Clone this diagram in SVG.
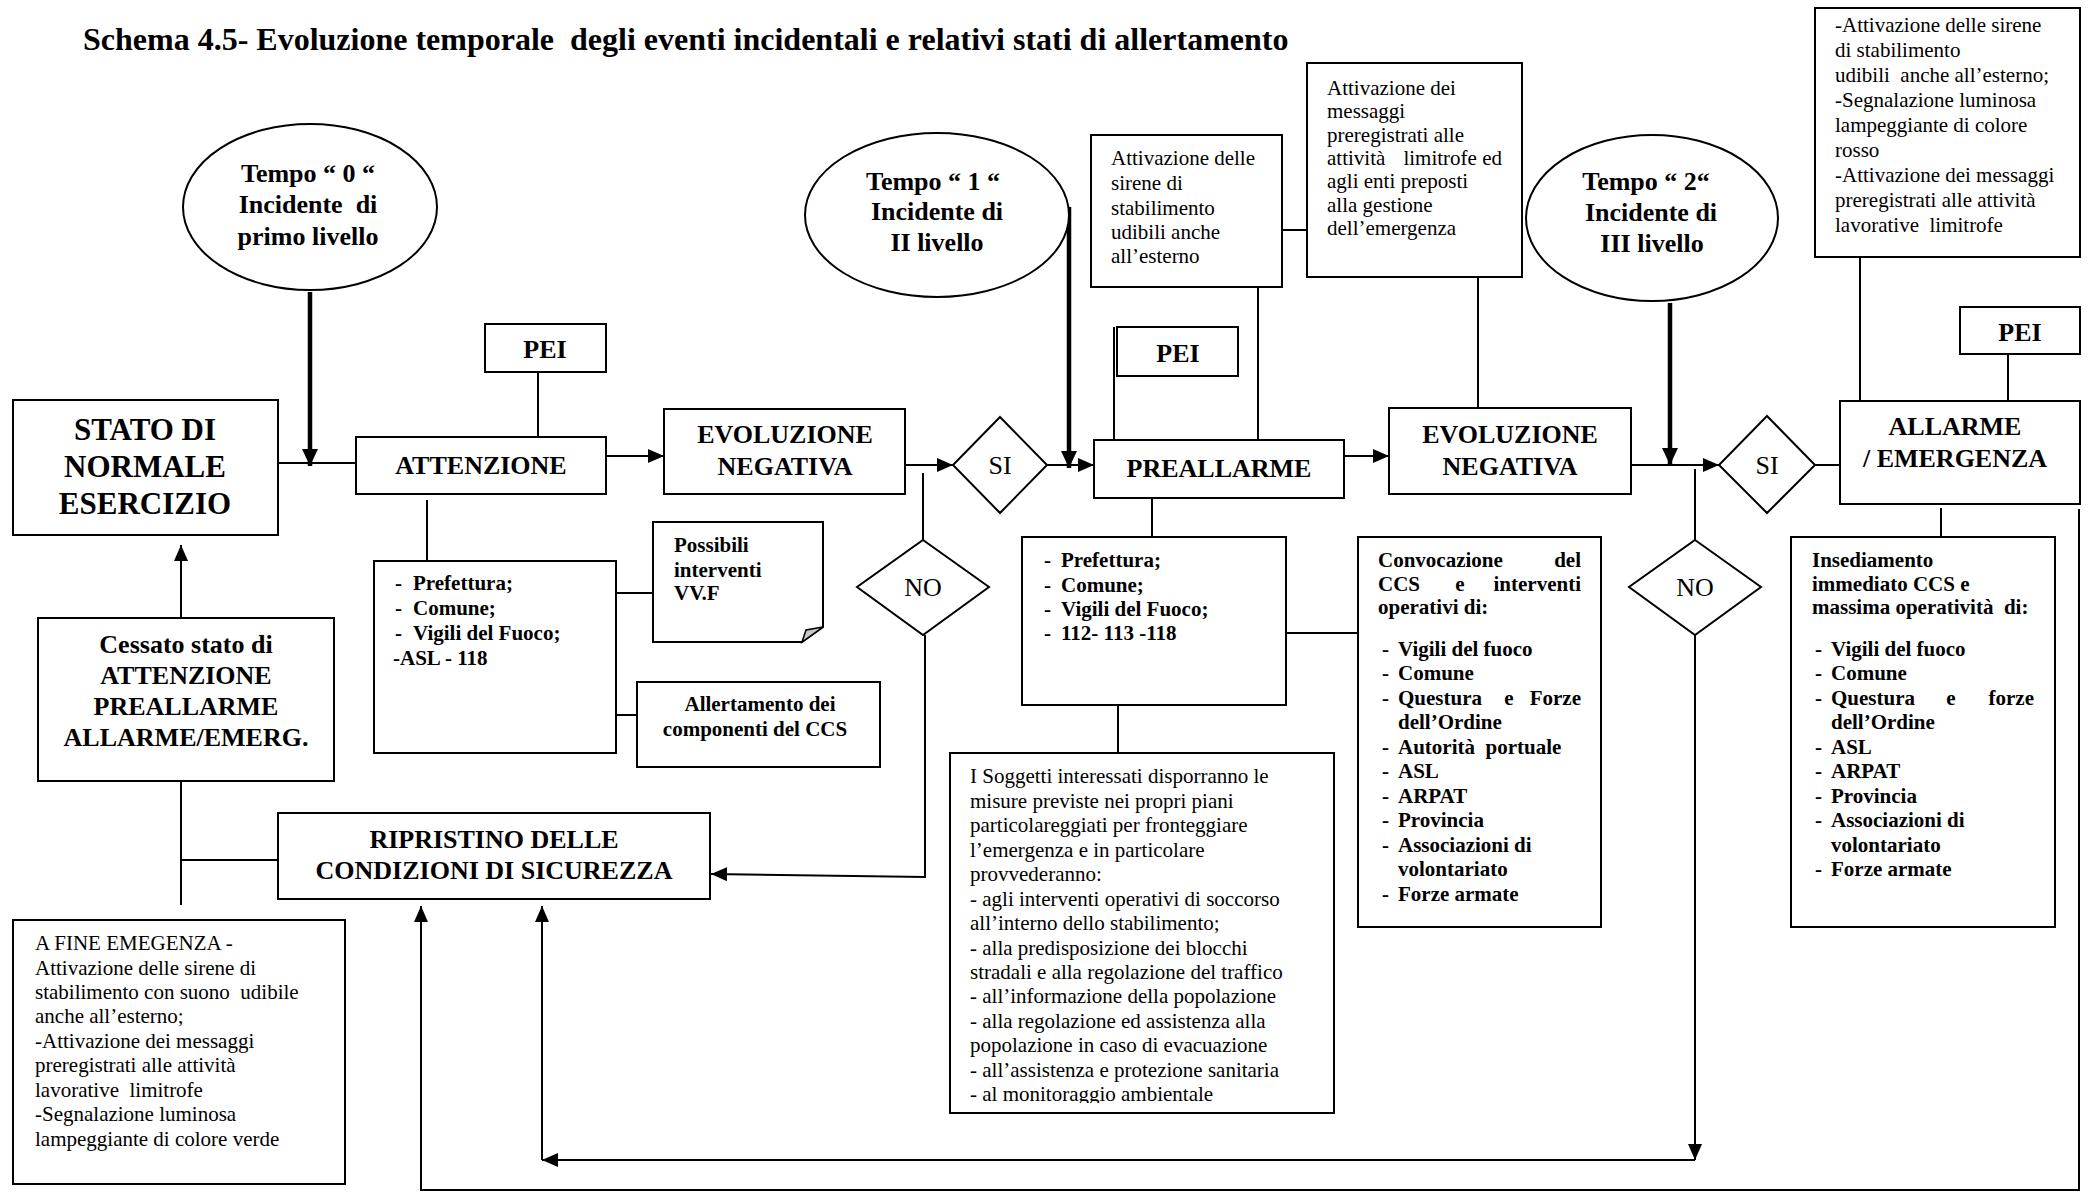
<svg xmlns="http://www.w3.org/2000/svg" width="2098" height="1196" viewBox="0 0 2098 1196">
<style>
.bx{fill:#fff;stroke:#000;stroke-width:2}
.el{fill:#fff;stroke:#000;stroke-width:2}
.ln{fill:none;stroke:#000;stroke-width:2}
.th{fill:none;stroke:#000;stroke-width:4.5}
text{font-family:"Liberation Serif","Times New Roman",serif;fill:#000}
.t{font-size:32px;font-weight:bold}
.big{font-size:31px;font-weight:bold;text-anchor:middle}
.lb{font-size:26px;font-weight:bold;text-anchor:middle}
.dc{font-size:26px;text-anchor:middle}
.sm{font-size:21px}
.sb{font-size:21px;font-weight:bold}
.e{text-anchor:end}
.m{text-anchor:middle}
</style>
<defs>
<marker id="arr" markerUnits="userSpaceOnUse" markerWidth="16" markerHeight="14" refX="16" refY="7" orient="auto"><path d="M0,0 L16,7 L0,14 Z" fill="#000"/></marker>
<marker id="tarr" markerUnits="userSpaceOnUse" markerWidth="17" markerHeight="16" refX="17" refY="8" orient="auto"><path d="M0,0 L17,8 L0,16 Z" fill="#000"/></marker>
<clipPath id="clipSog"><rect x="950" y="753" width="384" height="350"/></clipPath>
</defs>
<rect x="0" y="0" width="2098" height="1196" fill="#fff"/>
<text class="t" x="83" y="50" xml:space="preserve">Schema 4.5- Evoluzione temporale  degli eventi incidentali e relativi stati di allertamento</text>

<g id="connectors">
<path class="th" d="M310,292 V466" marker-end="url(#tarr)"/>
<path class="ln" d="M278,463 H356"/>
<path class="ln" d="M538,372 V437"/>
<path class="ln" d="M606,456 H664" marker-end="url(#arr)"/>
<path class="ln" d="M427,500 V561"/>
<path class="ln" d="M616,593 H653"/>
<path class="ln" d="M616,715 H637"/>
<path class="ln" d="M905,465 H953" marker-end="url(#arr)"/>
<path class="ln" d="M923,473 V540"/>
<path class="ln" d="M1047,465 H1094" marker-end="url(#arr)"/>
<path class="th" d="M1069,207 V468" marker-end="url(#tarr)"/>
<path class="ln" d="M1114,327 V441"/>
<path class="ln" d="M1258,287 V440"/>
<path class="ln" d="M1282,230 H1307"/>
<path class="ln" d="M1334,456 H1389" marker-end="url(#arr)"/>
<path class="ln" d="M1152,498 V537"/>
<path class="ln" d="M1286,633 H1358"/>
<path class="ln" d="M1118,705 V753"/>
<path class="ln" d="M1478,277 V408"/>
<path class="ln" d="M1631,465 H1719" marker-end="url(#arr)"/>
<path class="th" d="M1670,303 V465" marker-end="url(#tarr)"/>
<path class="ln" d="M1695,469 V540"/>
<path class="ln" d="M1815,465 H1840"/>
<path class="ln" d="M2008,354 V401"/>
<path class="ln" d="M1860,257 V401"/>
<path class="ln" d="M1941,508 V537"/>
<path class="ln" d="M925,635 V877 L711,874" marker-end="url(#arr)"/>
<path class="ln" d="M1695,635 V1160" marker-end="url(#arr)"/>
<path class="ln" d="M1695,1160 H542" marker-end="url(#arr)"/>
<path class="ln" d="M542,1160 V906" marker-end="url(#arr)"/>
<path class="ln" d="M2079,509 V1190 H421 V906" marker-end="url(#arr)"/>
<path class="ln" d="M181,618 V545" marker-end="url(#arr)"/>
<path class="ln" d="M181,781 V905 M181,860 H278"/>
</g>

<g id="tempo0">
<ellipse class="el" cx="310" cy="207" rx="127" ry="83"/>
<text class="lb" x="308" y="182">Tempo “ 0 “</text>
<text class="lb" x="308" y="213" xml:space="preserve">Incidente  di</text>
<text class="lb" x="308" y="245">primo livello</text>
</g>

<g id="tempo1">
<ellipse class="el" cx="937" cy="215" rx="132" ry="82"/>
<text class="lb" x="933" y="190">Tempo “ 1 “</text>
<text class="lb" x="937" y="220">Incidente di</text>
<text class="lb" x="937" y="251">II livello</text>
</g>

<g id="tempo2">
<ellipse class="el" cx="1652" cy="218" rx="126" ry="83"/>
<text class="lb" x="1646" y="190">Tempo “ 2“</text>
<text class="lb" x="1651" y="221">Incidente di</text>
<text class="lb" x="1652" y="252">III livello</text>
</g>

<g id="stato">
<rect class="bx" x="13" y="400" width="265" height="135"/>
<text class="big" x="145" y="440">STATO DI</text>
<text class="big" x="145" y="477">NORMALE</text>
<text class="big" x="145" y="514">ESERCIZIO</text>
</g>

<g id="pei1">
<rect class="bx" x="485" y="324" width="121" height="48"/>
<text class="lb" x="545" y="358">PEI</text>
</g>

<g id="attenzione">
<rect class="bx" x="356" y="437" width="250" height="57"/>
<text class="lb" x="481" y="474">ATTENZIONE</text>
</g>

<g id="lista1">
<rect class="bx" x="374" y="561" width="242" height="192"/>
<text class="sb" x="395" y="590">-</text><text class="sb" x="413" y="590">Prefettura;</text>
<text class="sb" x="395" y="615">-</text><text class="sb" x="413" y="615">Comune;</text>
<text class="sb" x="395" y="640">-</text><text class="sb" x="413" y="640">Vigili del Fuoco;</text>
<text class="sb" x="393" y="665">-ASL - 118</text>
</g>

<g id="possibili">
<path class="bx" d="M653,522 H823 V627 L802,642 H653 Z"/>
<path d="M802,642 L806,630 L823,627 Z" fill="#c8c8c8" stroke="#000" stroke-width="1.5"/>
<text class="sb" x="674" y="552">Possibili</text>
<text class="sb" x="674" y="577">interventi</text>
<text class="sb" x="674" y="600">VV.F</text>
</g>

<g id="allertamento">
<rect class="bx" x="637" y="682" width="243" height="85"/>
<text class="sb m" x="760" y="711">Allertamento dei</text>
<text class="sb m" x="755" y="736">componenti del CCS</text>
</g>

<g id="evoluzione1">
<rect class="bx" x="664" y="409" width="241" height="85"/>
<text class="lb" x="785" y="443">EVOLUZIONE</text>
<text class="lb" x="785" y="475">NEGATIVA</text>
</g>

<g id="si1">
<path class="bx" d="M1000,417 L1047,465 L1000,513 L953,465 Z"/>
<text class="dc" x="1000" y="474">SI</text>
</g>

<g id="no1">
<path class="bx" d="M923,540 L989,587 L923,635 L857,587 Z"/>
<text class="dc" x="923" y="596">NO</text>
</g>

<g id="ripristino">
<rect class="bx" x="278" y="813" width="432" height="86"/>
<text class="lb" x="494" y="848">RIPRISTINO DELLE</text>
<text class="lb" x="494" y="879">CONDIZIONI DI SICUREZZA</text>
</g>

<g id="cessato">
<rect class="bx" x="38" y="618" width="296" height="163"/>
<text class="lb" x="186" y="653">Cessato stato di</text>
<text class="lb" x="186" y="684">ATTENZIONE</text>
<text class="lb" x="186" y="715">PREALLARME</text>
<text class="lb" x="186" y="746">ALLARME/EMERG.</text>
</g>

<g id="fine-emergenza">
<rect class="bx" x="13" y="920" width="332" height="264"/>
<text class="sm" x="35" y="950">A FINE EMEGENZA -</text>
<text class="sm" x="35" y="975">Attivazione delle sirene di</text>
<text class="sm" x="35" y="999" xml:space="preserve">stabilimento con suono  udibile</text>
<text class="sm" x="35" y="1023">anche all’esterno;</text>
<text class="sm" x="35" y="1048">-Attivazione dei messaggi</text>
<text class="sm" x="35" y="1072">preregistrati alle attività</text>
<text class="sm" x="35" y="1097" xml:space="preserve">lavorative  limitrofe</text>
<text class="sm" x="35" y="1121">-Segnalazione luminosa</text>
<text class="sm" x="35" y="1146">lampeggiante di colore verde</text>
</g>

<g id="sirene1">
<rect class="bx" x="1091" y="135" width="191" height="152"/>
<text class="sm" x="1111" y="165">Attivazione delle</text>
<text class="sm" x="1111" y="190">sirene di</text>
<text class="sm" x="1111" y="215">stabilimento</text>
<text class="sm" x="1111" y="239">udibili anche</text>
<text class="sm" x="1111" y="263">all’esterno</text>
</g>

<g id="messaggi">
<rect class="bx" x="1307" y="63" width="215" height="214"/>
<text class="sm" x="1327" y="95">Attivazione dei</text>
<text class="sm" x="1327" y="118">messaggi</text>
<text class="sm" x="1327" y="142">preregistrati alle</text>
<text class="sm" x="1327" y="165">attività</text><text class="sm e" x="1502" y="165">limitrofe ed</text>
<text class="sm" x="1327" y="188">agli enti preposti</text>
<text class="sm" x="1327" y="212">alla gestione</text>
<text class="sm" x="1327" y="235">dell’emergenza</text>
</g>

<g id="pei2">
<rect class="bx" x="1117" y="327" width="121" height="49"/>
<text class="lb" x="1178" y="362">PEI</text>
</g>

<g id="preallarme">
<rect class="bx" x="1094" y="440" width="250" height="58"/>
<text class="lb" x="1219" y="477">PREALLARME</text>
</g>

<g id="lista2">
<rect class="bx" x="1022" y="537" width="264" height="168"/>
<text class="sb" x="1044" y="567">-</text><text class="sb" x="1061" y="567">Prefettura;</text>
<text class="sb" x="1044" y="592">-</text><text class="sb" x="1061" y="592">Comune;</text>
<text class="sb" x="1044" y="616">-</text><text class="sb" x="1061" y="616">Vigili del Fuoco;</text>
<text class="sb" x="1044" y="640">-</text><text class="sb" x="1061" y="640">112- 113 -118</text>
</g>

<g id="soggetti">
<rect class="bx" x="950" y="753" width="384" height="360"/>
<g clip-path="url(#clipSog)">
<text class="sm" x="970" y="783">I Soggetti interessati disporranno le</text>
<text class="sm" x="970" y="808">misure previste nei propri piani</text>
<text class="sm" x="970" y="832">particolareggiati per fronteggiare</text>
<text class="sm" x="970" y="857">l’emergenza e in particolare</text>
<text class="sm" x="970" y="881">provvederanno:</text>
<text class="sm" x="970" y="906">- agli interventi operativi di soccorso</text>
<text class="sm" x="970" y="930">all’interno dello stabilimento;</text>
<text class="sm" x="970" y="955">- alla predisposizione dei blocchi</text>
<text class="sm" x="970" y="979">stradali e alla regolazione del traffico</text>
<text class="sm" x="970" y="1003">- all’informazione della popolazione</text>
<text class="sm" x="970" y="1028">- alla regolazione ed assistenza alla</text>
<text class="sm" x="970" y="1052">popolazione in caso di evacuazione</text>
<text class="sm" x="970" y="1077">- all’assistenza e protezione sanitaria</text>
<text class="sm" x="970" y="1101">- al monitoraggio ambientale</text>
</g>
</g>

<g id="evoluzione2">
<rect class="bx" x="1389" y="408" width="242" height="86"/>
<text class="lb" x="1510" y="443">EVOLUZIONE</text>
<text class="lb" x="1510" y="475">NEGATIVA</text>
</g>

<g id="convocazione">
<rect class="bx" x="1358" y="537" width="243" height="390"/>
<text class="sb" x="1378" y="567">Convocazione</text><text class="sb e" x="1581" y="567">del</text>
<text class="sb" x="1378" y="591">CCS</text><text class="sb m" x="1460" y="591">e</text><text class="sb e" x="1581" y="591">interventi</text>
<text class="sb" x="1378" y="614">operativi di:</text>
<text class="sb" x="1382" y="656">-</text><text class="sb" x="1398" y="656">Vigili del fuoco</text>
<text class="sb" x="1382" y="680">-</text><text class="sb" x="1398" y="680">Comune</text>
<text class="sb" x="1382" y="705">-</text><text class="sb" x="1398" y="705">Questura</text><text class="sb m" x="1509" y="705">e</text><text class="sb e" x="1581" y="705">Forze</text>
<text class="sb" x="1398" y="729">dell’Ordine</text>
<text class="sb" x="1382" y="754">-</text><text class="sb" x="1398" y="754" xml:space="preserve">Autorità  portuale</text>
<text class="sb" x="1382" y="778">-</text><text class="sb" x="1398" y="778">ASL</text>
<text class="sb" x="1382" y="803">-</text><text class="sb" x="1398" y="803">ARPAT</text>
<text class="sb" x="1382" y="827">-</text><text class="sb" x="1398" y="827">Provincia</text>
<text class="sb" x="1382" y="852">-</text><text class="sb" x="1398" y="852">Associazioni di</text>
<text class="sb" x="1398" y="876">volontariato</text>
<text class="sb" x="1382" y="901">-</text><text class="sb" x="1398" y="901">Forze armate</text>
</g>

<g id="si2">
<path class="bx" d="M1767,416 L1815,465 L1767,513 L1719,465 Z"/>
<text class="dc" x="1767" y="474">SI</text>
</g>

<g id="no2">
<path class="bx" d="M1695,540 L1761,587 L1695,635 L1629,587 Z"/>
<text class="dc" x="1695" y="596">NO</text>
</g>

<g id="sirene2">
<rect class="bx" x="1815" y="8" width="265" height="249"/>
<text class="sm" x="1835" y="32">-Attivazione delle sirene</text>
<text class="sm" x="1835" y="57">di stabilimento</text>
<text class="sm" x="1835" y="82" xml:space="preserve">udibili  anche all’esterno;</text>
<text class="sm" x="1835" y="107">-Segnalazione luminosa</text>
<text class="sm" x="1835" y="132">lampeggiante di colore</text>
<text class="sm" x="1835" y="157">rosso</text>
<text class="sm" x="1835" y="182">-Attivazione dei messaggi</text>
<text class="sm" x="1835" y="207">preregistrati alle attività</text>
<text class="sm" x="1835" y="232" xml:space="preserve">lavorative  limitrofe</text>
</g>

<g id="pei3">
<rect class="bx" x="1960" y="307" width="120" height="47"/>
<text class="lb" x="2020" y="341">PEI</text>
</g>

<g id="allarme">
<rect class="bx" x="1840" y="401" width="240" height="103"/>
<text class="lb" x="1955" y="435">ALLARME</text>
<text class="lb" x="1955" y="467">/ EMERGENZA</text>
</g>

<g id="lista3">
<rect class="bx" x="1791" y="537" width="264" height="390"/>
<text class="sb" x="1812" y="567">Insediamento</text>
<text class="sb" x="1812" y="591">immediato CCS e</text>
<text class="sb" x="1812" y="614" xml:space="preserve">massima operatività  di:</text>
<text class="sb" x="1815" y="656">-</text><text class="sb" x="1831" y="656">Vigili del fuoco</text>
<text class="sb" x="1815" y="680">-</text><text class="sb" x="1831" y="680">Comune</text>
<text class="sb" x="1815" y="705">-</text><text class="sb" x="1831" y="705">Questura</text><text class="sb m" x="1951" y="705">e</text><text class="sb e" x="2034" y="705">forze</text>
<text class="sb" x="1831" y="729">dell’Ordine</text>
<text class="sb" x="1815" y="754">-</text><text class="sb" x="1831" y="754">ASL</text>
<text class="sb" x="1815" y="778">-</text><text class="sb" x="1831" y="778">ARPAT</text>
<text class="sb" x="1815" y="803">-</text><text class="sb" x="1831" y="803">Provincia</text>
<text class="sb" x="1815" y="827">-</text><text class="sb" x="1831" y="827">Associazioni di</text>
<text class="sb" x="1831" y="852">volontariato</text>
<text class="sb" x="1815" y="876">-</text><text class="sb" x="1831" y="876">Forze armate</text>
</g>
</svg>
